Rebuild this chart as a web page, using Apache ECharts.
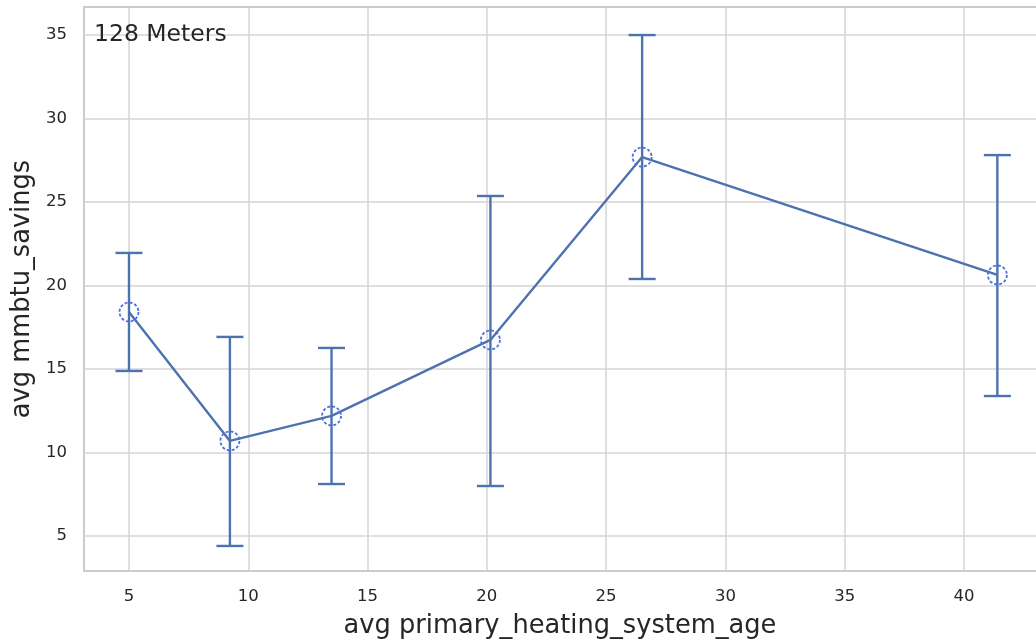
<!DOCTYPE html>
<html>
<head>
<meta charset="utf-8">
<script src="https://cdn.jsdelivr.net/npm/echarts@6/dist/echarts.min.js"></script>
<style>html,body{margin:0;padding:0;background:#fff}#c{width:1036px;height:644px}</style>
</head>
<body>
<div id="c"></div>
<script>
const ages = [5.0, 9.23, 13.49, 20.15, 26.51, 41.40];
const savings = [18.41, 10.69, 12.19, 16.74, 27.69, 20.63];
const errLow = [14.88, 4.40, 8.11, 7.99, 20.39, 13.38];
const errHigh = [21.95, 16.92, 16.26, 25.36, 35.0, 27.81];
const xTicks = [5, 10, 15, 20, 25, 30, 35, 40];
const yTicks = [5, 10, 15, 20, 25, 30, 35];
const label = '128 Meters';

const chart = echarts.init(document.getElementById('c'), null, {renderer: 'canvas'});
const FONT = 'DejaVu Sans';
const lineColor = '#4c72b0';
const borderStyle = {color: '#cccccc', width: 2};
const X_MIN = 3.114, X_MAX = 43.02;
chart.setOption({
  animation: false,
  backgroundColor: '#ffffff',
  grid: {left: 84, right: 0, top: 7, bottom: 73, show: false},
  title: {text: label, left: 89, top: 18, textStyle: {fontFamily: FONT, fontSize: 23.5, fontWeight: 'normal', color: '#262626'}},
  xAxis: [{
    type: 'value', min: X_MIN, max: X_MAX,
    name: 'avg primary_heating_system_age', nameLocation: 'middle', nameGap: 42,
    nameTextStyle: {fontFamily: FONT, fontSize: 25.7, color: '#262626'},
    axisLine: {show: true, onZero: false, lineStyle: borderStyle}, axisTick: {show: false, customValues: xTicks},
    axisLabel: {fontFamily: FONT, fontSize: 16.5, color: '#262626', margin: 17, customValues: xTicks},
    splitLine: {show: true, lineStyle: {color: '#d5d5d5', width: 1.5}}
  }, {
    type: 'value', position: 'top', min: X_MIN, max: X_MAX,
    axisLine: {show: true, onZero: false, lineStyle: borderStyle}, axisTick: {show: false},
    axisLabel: {show: false}, splitLine: {show: false}
  }],
  yAxis: {
    type: 'value', min: 2.9, max: 36.68,
    name: 'avg mmbtu_savings', nameLocation: 'middle', nameGap: 48, nameRotate: 90,
    nameTextStyle: {fontFamily: FONT, fontSize: 25.7, color: '#262626'},
    axisLine: {show: true, onZero: false, lineStyle: borderStyle}, axisTick: {show: false, customValues: yTicks},
    axisLabel: {fontFamily: FONT, fontSize: 16.5, color: '#262626', margin: 17, customValues: yTicks},
    splitLine: {show: true, lineStyle: {color: '#d5d5d5', width: 1.5}}
  },
  series: [
    {
      type: 'custom',
      xAxisIndex: 0,
      data: ages.map((a, i) => [a, errLow[i], errHigh[i]]),
      renderItem: function (params, api) {
        const x = api.value(0);
        const lo = api.coord([x, api.value(1)]);
        const hi = api.coord([x, api.value(2)]);
        const hw = 13.5;
        const style = {stroke: lineColor, lineWidth: 2.4};
        return {type: 'group', children: [
          {type: 'line', shape: {x1: lo[0], y1: lo[1], x2: hi[0], y2: hi[1]}, style: style},
          {type: 'line', shape: {x1: lo[0] - hw, y1: lo[1], x2: lo[0] + hw, y2: lo[1]}, style: style},
          {type: 'line', shape: {x1: hi[0] - hw, y1: hi[1], x2: hi[0] + hw, y2: hi[1]}, style: style}
        ]};
      },
      z: 2
    },
    {
      type: 'line',
      xAxisIndex: 0,
      data: ages.map((a, i) => [a, savings[i]]),
      lineStyle: {color: lineColor, width: 2.4},
      symbol: 'circle', symbolSize: 19,
      itemStyle: {color: 'rgba(0,0,0,0)', borderColor: '#4a6fe3', borderWidth: 1.8, borderType: [3, 2]},
      z: 3
    }
  ]
});
</script>
</body>
</html>
